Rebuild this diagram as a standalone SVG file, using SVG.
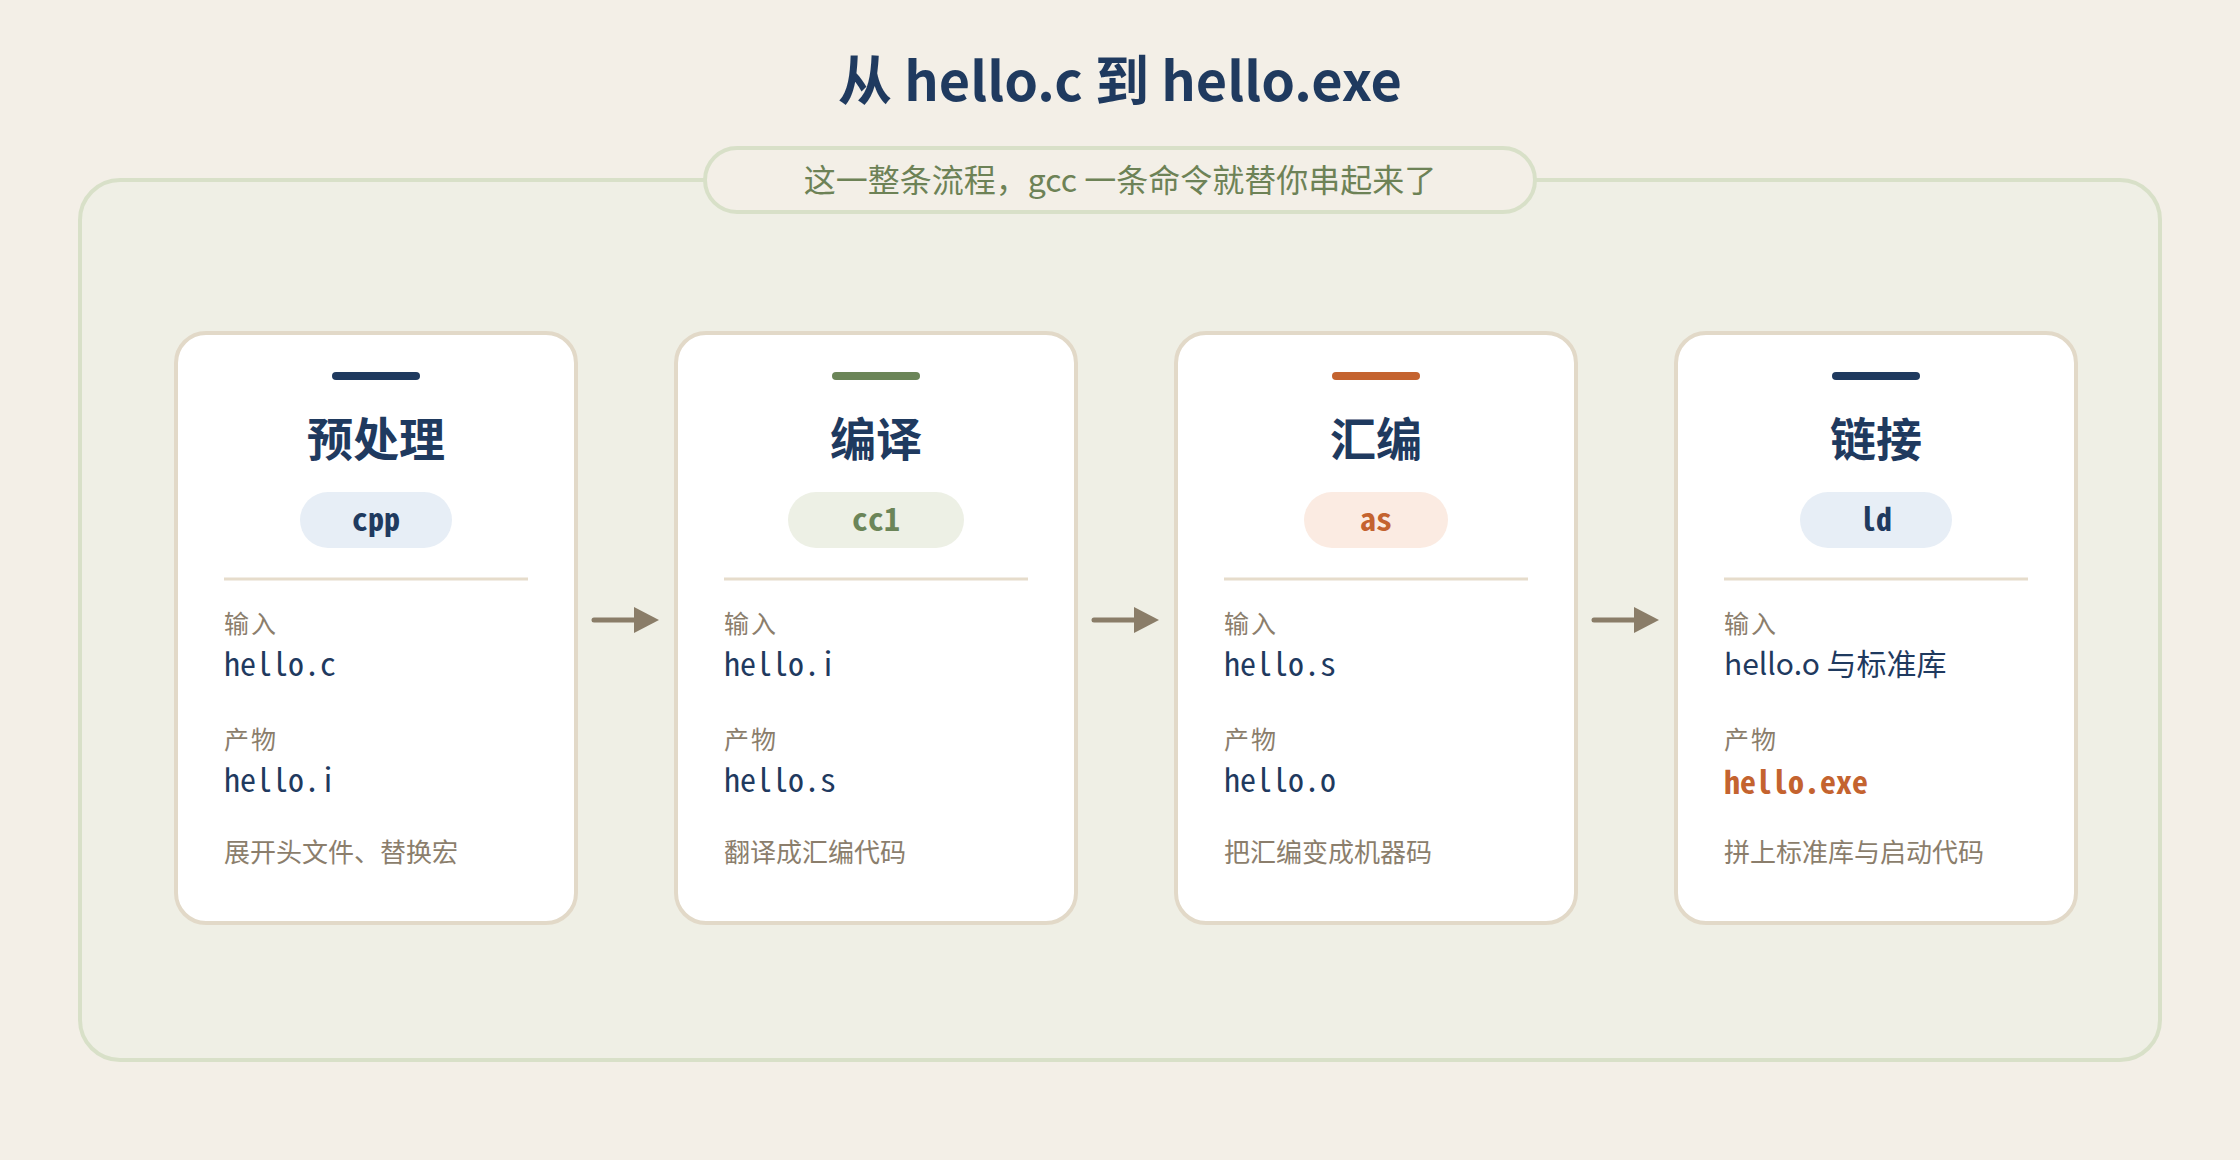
<svg xmlns="http://www.w3.org/2000/svg" width="2240" height="1160" viewBox="0 0 2240 1160">
<defs>
<style>
.cjk{font-family:"Noto Sans CJK SC","Noto Sans",sans-serif}
.mono{font-family:"Noto Sans Mono CJK SC","DejaVu Sans Mono",monospace}
.card{fill:#ffffff;stroke:#e2d9c8;stroke-width:4}
.ttl{font-size:46px;font-weight:700;fill:#1f3a5f;text-anchor:middle}
.lbl{font-size:25px;fill:#8b7e6c;letter-spacing:2px}
.val{font-size:32px;fill:#1f3a5f}
.exe{font-size:32px;font-weight:700;fill:#c4632f}
.desc{font-size:26px;fill:#8b7e6c}
.div{stroke:#e6dccb;stroke-width:3}
.pt{font-size:32px;font-weight:700;text-anchor:middle}
.arr{stroke:#8a7d68;stroke-width:5;stroke-linecap:round;fill:none}
</style>
<marker id="ah" markerWidth="26" markerHeight="26" refX="0" refY="13" orient="auto" markerUnits="userSpaceOnUse">
<path d="M0,0 L25,13 L0,26 z" fill="#8a7d68"/>
</marker>
</defs>
<rect x="0" y="0" width="2240" height="1160" fill="#f3efe7"/>
<g id="title">
<text x="1120" y="101" class="cjk" font-size="54" font-weight="700" fill="#1f3a5f" text-anchor="middle">从 hello.c 到 hello.exe</text>
</g>
<g id="container">
<rect x="80" y="180" width="2080" height="880" rx="40" fill="#efefe5" stroke="#d8e0c8" stroke-width="4"/>
<rect x="705" y="148" width="830" height="64" rx="32" fill="#f3efe7" stroke="#d8e0c8" stroke-width="4"/>
<text x="1120" y="192" class="cjk" font-size="32" fill="#6d8256" text-anchor="middle">这一整条流程，gcc 一条命令就替你串起来了</text>
</g>
<g id="connectors">
<line x1="594" y1="620" x2="634" y2="620" class="arr" marker-end="url(#ah)"/>
<line x1="1094" y1="620" x2="1134" y2="620" class="arr" marker-end="url(#ah)"/>
<line x1="1594" y1="620" x2="1634" y2="620" class="arr" marker-end="url(#ah)"/>
</g>
<g id="node-cpp">
<rect x="176" y="333" width="400" height="590" rx="30" class="card"/>
<rect x="332" y="372" width="88" height="8" rx="4" fill="#1f3a5f"/>
<text x="376" y="456" class="cjk ttl">预处理</text>
<rect x="300" y="492" width="152" height="56" rx="28" fill="#e7eef6"/>
<text x="376" y="531" class="mono pt" fill="#1f3a5f">cpp</text>
<line x1="224" y1="579" x2="528" y2="579" class="div"/>
<text x="224" y="633" class="cjk lbl">输入</text>
<text x="224" y="676" class="mono val">hello.c</text>
<text x="224" y="749" class="cjk lbl">产物</text>
<text x="224" y="792" class="mono val">hello.i</text>
<text x="224" y="862" class="cjk desc">展开头文件、替换宏</text>
</g>
<g id="node-cc1">
<rect x="676" y="333" width="400" height="590" rx="30" class="card"/>
<rect x="832" y="372" width="88" height="8" rx="4" fill="#6b8558"/>
<text x="876" y="456" class="cjk ttl">编译</text>
<rect x="788" y="492" width="176" height="56" rx="28" fill="#edf0e5"/>
<text x="876" y="531" class="mono pt" fill="#6b8558">cc1</text>
<line x1="724" y1="579" x2="1028" y2="579" class="div"/>
<text x="724" y="633" class="cjk lbl">输入</text>
<text x="724" y="676" class="mono val">hello.i</text>
<text x="724" y="749" class="cjk lbl">产物</text>
<text x="724" y="792" class="mono val">hello.s</text>
<text x="724" y="862" class="cjk desc">翻译成汇编代码</text>
</g>
<g id="node-as">
<rect x="1176" y="333" width="400" height="590" rx="30" class="card"/>
<rect x="1332" y="372" width="88" height="8" rx="4" fill="#c4632f"/>
<text x="1376" y="456" class="cjk ttl">汇编</text>
<rect x="1304" y="492" width="144" height="56" rx="28" fill="#fbebe2"/>
<text x="1376" y="531" class="mono pt" fill="#c4632f">as</text>
<line x1="1224" y1="579" x2="1528" y2="579" class="div"/>
<text x="1224" y="633" class="cjk lbl">输入</text>
<text x="1224" y="676" class="mono val">hello.s</text>
<text x="1224" y="749" class="cjk lbl">产物</text>
<text x="1224" y="792" class="mono val">hello.o</text>
<text x="1224" y="862" class="cjk desc">把汇编变成机器码</text>
</g>
<g id="node-ld">
<rect x="1676" y="333" width="400" height="590" rx="30" class="card"/>
<rect x="1832" y="372" width="88" height="8" rx="4" fill="#1f3a5f"/>
<text x="1876" y="456" class="cjk ttl">链接</text>
<rect x="1800" y="492" width="152" height="56" rx="28" fill="#e7eef6"/>
<text x="1876" y="531" class="mono pt" fill="#1f3a5f">ld</text>
<line x1="1724" y1="579" x2="2028" y2="579" class="div"/>
<text x="1724" y="633" class="cjk lbl">输入</text>
<text x="1724" y="675" class="cjk" font-size="30" fill="#1f3a5f">hello.o 与标准库</text>
<text x="1724" y="749" class="cjk lbl">产物</text>
<text x="1724" y="794" class="mono exe">hello.exe</text>
<text x="1724" y="862" class="cjk desc">拼上标准库与启动代码</text>
</g>
</svg>
